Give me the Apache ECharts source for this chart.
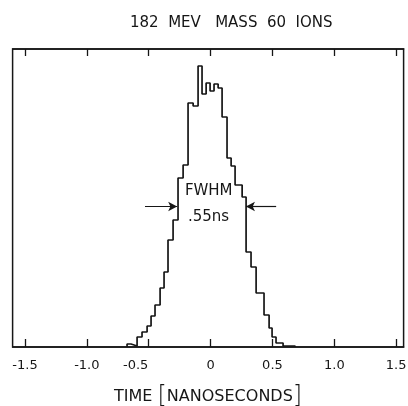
<!DOCTYPE html>
<html>
<head>
<meta charset="utf-8">
<script src="https://cdn.jsdelivr.net/npm/echarts@6/dist/echarts.min.js"></script>
<style>
  html, body { margin: 0; padding: 0; background: #fff; }
  #chart { width: 408px; height: 406px; }
</style>
</head>
<body>
<div id="chart"></div>
<script>
  // histogram bin edges (ns) and counts (arbitrary units)
  var binEdges = [-0.675, -0.643, -0.594, -0.554, -0.513, -0.481, -0.449, -0.408, -0.376, -0.344,
                  -0.303, -0.263, -0.222, -0.182, -0.141, -0.101, -0.069, -0.036, -0.004, 0.028,
                  0.061, 0.093, 0.133, 0.166, 0.198, 0.255, 0.287, 0.327, 0.368, 0.432,
                  0.473, 0.497, 0.529, 0.586, 0.683]
  var binCounts = [3, 1, 10, 15, 21, 31, 42, 59, 75, 107,
                   127, 169, 182, 244, 241, 281, 253, 264, 256, 263,
                   259, 230, 189, 181, 162, 150, 95, 80, 54, 32,
                   19, 10, 4, 1]
  var tickValues = [-1.5, -1.0, -0.5, 0, 0.5, 1.0, 1.5]
  var tickLabels = ['-1.5', '-1.0', '-0.5', '0', '0.5', '1.0', '1.5']
  // full width at half maximum markers
  var halfMax = 140.5
  var fwhmLeft = -0.27
  var fwhmRight = 0.286
  var arrowTailLeft = -0.53
  var arrowTailRight = 0.53

  var ink = '#161616'
  var font = 'DejaVu Sans'

  var stepData = [[binEdges[0], 0]]
  for (var i = 0; i < binCounts.length; i++) {
    stepData.push([binEdges[i], binCounts[i]])
  }
  stepData.push([binEdges[binEdges.length - 1], binCounts[binCounts.length - 1]])
  stepData.push([binEdges[binEdges.length - 1], 0])

  var myChart = echarts.init(document.getElementById('chart'))
  var option = {
    animation: false,
    backgroundColor: '#fff',
    title: {
      text: '182  MEV   MASS  60  IONS',
      left: 125,
      top: 11,
      textStyle: { fontFamily: font, fontSize: 15, fontWeight: 'normal', color: ink }
    },
    grid: {
      left: 12.6, top: 49, width: 391, height: 298,
      outerBoundsMode: 'none', containLabel: false,
      show: true, borderColor: ink, borderWidth: 1.5
    },
    xAxis: [
      {
        type: 'value', min: -1.6, max: 1.56, position: 'bottom',
        axisLine: { show: true, onZero: false, lineStyle: { color: ink, width: 1.5 } },
        axisTick: { show: true, inside: true, length: 8, customValues: tickValues,
                    lineStyle: { color: ink, width: 1.3 } },
        axisLabel: {
          show: true, margin: 12, customValues: tickValues,
          fontFamily: font, fontSize: 13, color: ink,
          formatter: function (v) {
            var idx = tickValues.indexOf(v)
            var s = idx >= 0 ? tickLabels[idx] : ''
            if (v === -0.5) return '{shift|' + s + '}'
            return s
          },
          rich: { shift: { fontFamily: font, fontSize: 13, color: ink, padding: [0, 26, 0, 0] } }
        },
        splitLine: { show: false },
        name: 'TIME {b|[}NANOSECONDS{b|]}',
        nameLocation: 'middle',
        nameGap: 38,
        nameTextStyle: {
          fontFamily: font, fontSize: 16, color: ink,
          rich: { b: { fontFamily: font, fontSize: 24, color: ink, fontWeight: 'lighter' } }
        }
      },
      {
        type: 'value', min: -1.6, max: 1.56, position: 'top',
        axisLine: { show: true, onZero: false, lineStyle: { color: ink, width: 1.5 } },
        axisTick: { show: true, inside: true, length: 7, customValues: tickValues,
                    lineStyle: { color: ink, width: 1.3 } },
        axisLabel: { show: false },
        splitLine: { show: false }
      }
    ],
    yAxis: {
      type: 'value', min: 0, max: 298,
      axisLine: { show: false, onZero: false },
      axisTick: { show: false },
      axisLabel: { show: false },
      splitLine: { show: false }
    },
    series: [
      {
        type: 'line',
        step: 'end',
        symbol: 'none',
        data: stepData,
        lineStyle: { color: ink, width: 1.7 },
        markLine: {
          silent: true,
          symbol: ['none', 'arrow'],
          symbolSize: [7, 9],
          lineStyle: { color: ink, width: 1.2, type: 'solid' },
          label: { show: false },
          data: [
            [{ coord: [arrowTailLeft, halfMax] }, { coord: [fwhmLeft, halfMax] }],
            [{ coord: [arrowTailRight, halfMax] }, { coord: [fwhmRight, halfMax] }]
          ]
        },
        markPoint: {
          silent: true,
          symbol: 'circle',
          symbolSize: 0,
          data: [
            { coord: [-0.015, 156], label: { show: true, formatter: 'FWHM', position: 'inside',
              fontFamily: font, fontSize: 15, color: ink } },
            { coord: [-0.017, 129.5], label: { show: true, formatter: '.55ns', position: 'inside',
              fontFamily: font, fontSize: 15, color: ink } }
          ]
        }
      }
    ]
  }
  myChart.setOption(option)
</script>
</body>
</html>
